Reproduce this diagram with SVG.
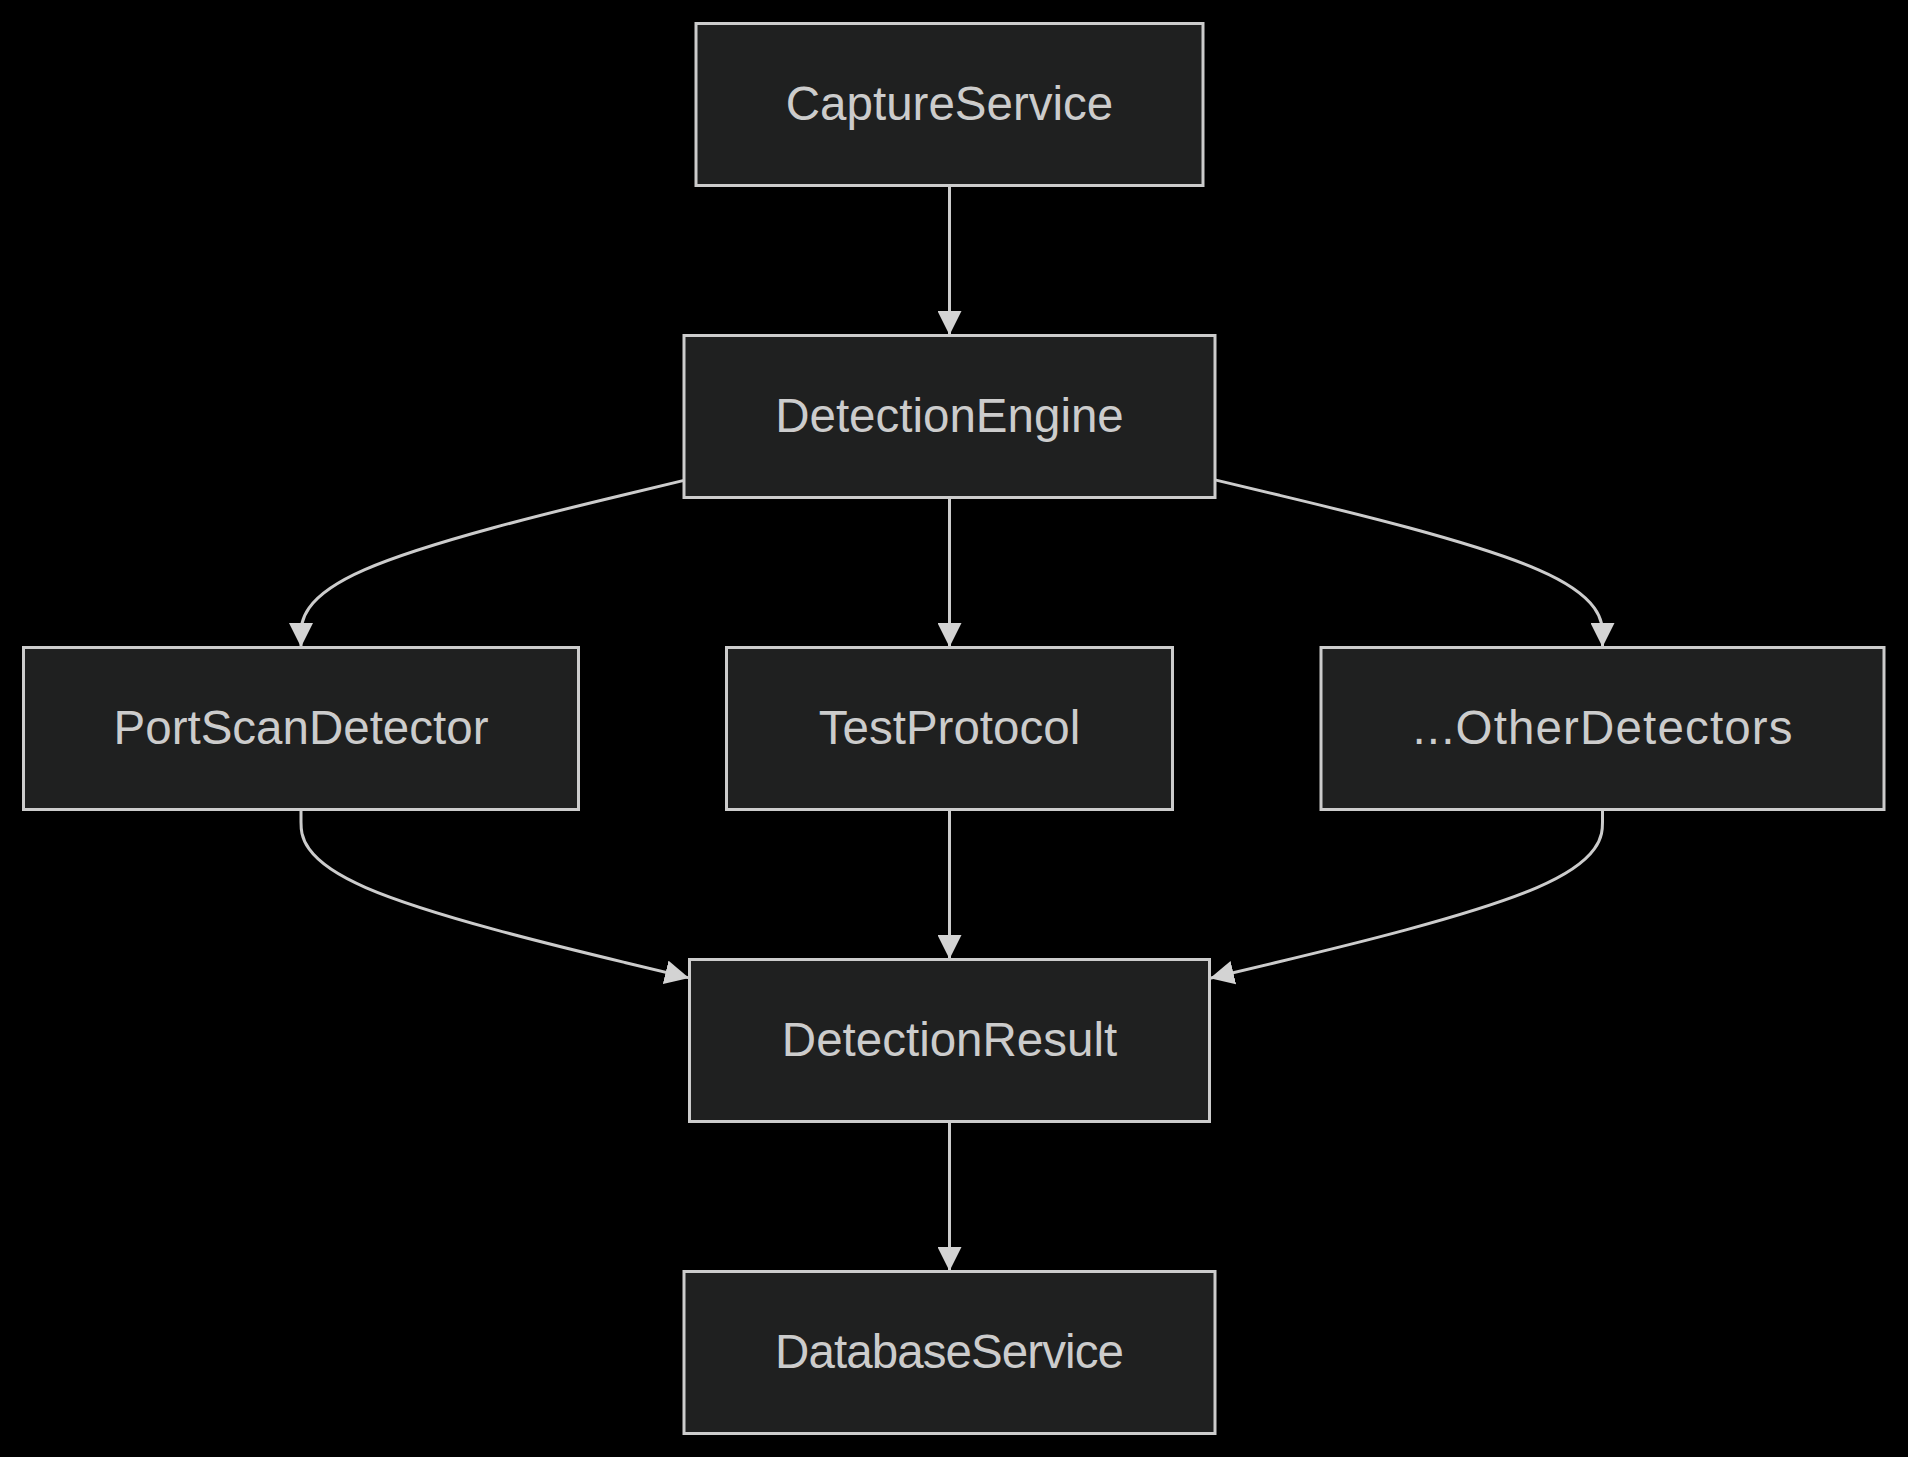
<svg xmlns="http://www.w3.org/2000/svg" width="1908" height="1457" viewBox="0 0 1908 1457">
<style>
.node rect{fill:#1f2020;stroke:#cccccc;stroke-width:3}
.node text{fill:#cccccc;font-family:"Trebuchet MS","Liberation Sans",Arial,sans-serif;font-size:47.5px;text-anchor:middle}
.edge{fill:none;stroke:#cccccc;stroke-width:3;marker-end:url(#arrow)}
</style>
<defs>
<marker id="arrow" viewBox="0 0 10 10" refX="10" refY="5" markerUnits="userSpaceOnUse" markerWidth="24" markerHeight="24" orient="auto">
<path d="M0,0 L10,5 L0,10 z" fill="#d3d3d3"/>
</marker>
</defs>
<rect x="0" y="0" width="1908" height="1457" fill="#000000"/>
<g id="connectors">
<path class="edge" d="M949.5,185.5 L949.5,335"/>
<path class="edge" d="M949.5,497.5 L949.5,647"/>
<path class="edge" d="M949.5,809.5 L949.5,959"/>
<path class="edge" d="M949.5,1121.5 L949.5,1271"/>
<path class="edge" d="M684,480.4 L620.17,495.75 C556.33,511.1 428.67,541.8 364.83,569.65 C301,597.5 301,622.5 301,635 L301,647"/>
<path class="edge" d="M1215,479.9 L1279.58,495.33 C1344.17,510.77 1473.33,541.63 1537.92,569.57 C1602.5,597.5 1602.5,622.5 1602.5,635 L1602.5,647"/>
<path class="edge" d="M301,809.5 L301,822 C301,834.5 301,859.5 365.75,887.58 C430.5,915.67 560,946.83 624.75,962.42 L689,977.9"/>
<path class="edge" d="M1602.5,809.5 L1602.5,822 C1602.5,834.5 1602.5,859.5 1537,887.65 C1471.5,915.8 1340.5,947.1 1275,962.75 L1210,978.3"/>
</g>
<g id="CaptureService" class="node">
<rect x="696" y="23.5" width="507" height="162"/>
<text x="949.5" y="119.5">CaptureService</text>
</g>
<g id="DetectionEngine" class="node">
<rect x="684" y="335.5" width="531" height="162"/>
<text x="949.5" y="431.5">DetectionEngine</text>
</g>
<g id="PortScanDetector" class="node">
<rect x="23.5" y="647.5" width="555" height="162"/>
<text x="301" y="743.5">PortScanDetector</text>
</g>
<g id="TestProtocol" class="node">
<rect x="726.5" y="647.5" width="446" height="162"/>
<text x="949.5" y="743.5">TestProtocol</text>
</g>
<g id="OtherDetectors" class="node">
<rect x="1321" y="647.5" width="563" height="162"/>
<text x="1602.5" y="743.5" textLength="380" lengthAdjust="spacing">...OtherDetectors</text>
</g>
<g id="DetectionResult" class="node">
<rect x="689.5" y="959.5" width="520" height="162"/>
<text x="949.5" y="1055.5">DetectionResult</text>
</g>
<g id="DatabaseService" class="node">
<rect x="684" y="1271.5" width="531" height="162"/>
<text x="949.5" y="1367.5" textLength="349" lengthAdjust="spacing">DatabaseService</text>
</g>
</svg>
